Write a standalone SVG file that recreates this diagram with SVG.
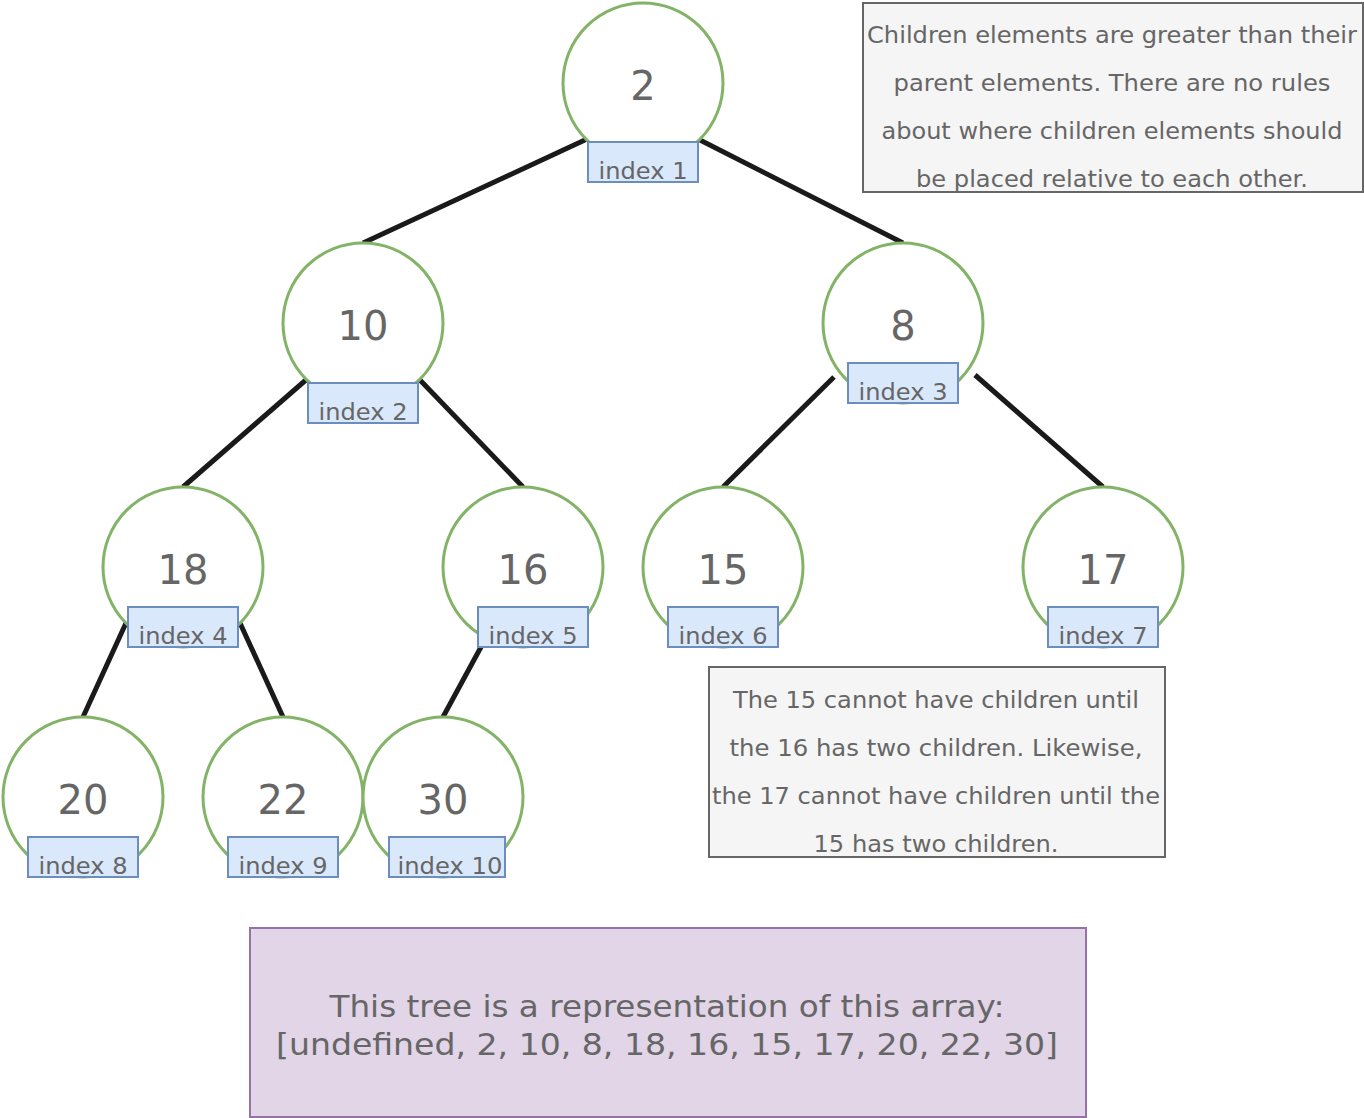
<svg xmlns="http://www.w3.org/2000/svg" width="1364" height="1118" viewBox="0 0 1364 1118">
<style>
  text { font-family: "DejaVu Sans", Verdana, sans-serif; fill: #666666; text-anchor: middle; }
  .circ { fill: #ffffff; stroke: #82b366; stroke-width: 3; }
  .idx { fill: #dae8fc; stroke: #6c8ebf; stroke-width: 2; }
  .num { font-size: 40px; }
  .lbl { font-size: 23.5px; }
  .note { fill: #f5f5f5; stroke: #666666; stroke-width: 2; }
  .nt { font-size: 23px; }
  .arr { fill: #e1d5e7; stroke: #9673a6; stroke-width: 2; }
  .at { font-size: 31px; }
  .edge { stroke: #1a1a1a; stroke-width: 5; fill: none; }
</style>
<rect width="1364" height="1118" fill="#ffffff"/>

<g id="connectors">
  <line class="edge" x1="587" y1="139" x2="363" y2="243"/>
  <line class="edge" x1="698" y1="139" x2="903" y2="243"/>
  <line class="edge" x1="307" y1="379" x2="183" y2="487"/>
  <line class="edge" x1="419" y1="379" x2="523" y2="487"/>
  <line class="edge" x1="834" y1="377" x2="723" y2="487"/>
  <line class="edge" x1="975" y1="375" x2="1103" y2="487"/>
  <line class="edge" x1="126" y1="623" x2="83" y2="717"/>
  <line class="edge" x1="240" y1="623" x2="283" y2="717"/>
  <line class="edge" x1="481" y1="647" x2="443" y2="717"/>
</g>

<g id="node-1">
  <circle class="circ" cx="643" cy="83" r="80"/>
  <text class="num" x="643" y="100">2</text>
  <rect class="idx" x="588" y="142" width="110" height="40"/>
  <text class="lbl" x="643" y="179" textLength="89" lengthAdjust="spacingAndGlyphs">index 1</text>
</g>
<g id="node-2">
  <circle class="circ" cx="363" cy="323" r="80"/>
  <text class="num" x="363" y="340">10</text>
  <rect class="idx" x="308" y="383" width="110" height="40"/>
  <text class="lbl" x="363" y="420" textLength="89" lengthAdjust="spacingAndGlyphs">index 2</text>
</g>
<g id="node-3">
  <circle class="circ" cx="903" cy="323" r="80"/>
  <text class="num" x="903" y="340">8</text>
  <rect class="idx" x="848" y="363" width="110" height="40"/>
  <text class="lbl" x="903" y="400" textLength="89" lengthAdjust="spacingAndGlyphs">index 3</text>
</g>
<g id="node-4">
  <circle class="circ" cx="183" cy="567" r="80"/>
  <text class="num" x="183" y="584">18</text>
  <rect class="idx" x="128" y="607" width="110" height="40"/>
  <text class="lbl" x="183" y="644" textLength="89" lengthAdjust="spacingAndGlyphs">index 4</text>
</g>
<g id="node-5">
  <circle class="circ" cx="523" cy="567" r="80"/>
  <text class="num" x="523" y="584">16</text>
  <rect class="idx" x="478" y="607" width="110" height="40"/>
  <text class="lbl" x="533" y="644" textLength="89" lengthAdjust="spacingAndGlyphs">index 5</text>
</g>
<g id="node-6">
  <circle class="circ" cx="723" cy="567" r="80"/>
  <text class="num" x="723" y="584">15</text>
  <rect class="idx" x="668" y="607" width="110" height="40"/>
  <text class="lbl" x="723" y="644" textLength="89" lengthAdjust="spacingAndGlyphs">index 6</text>
</g>
<g id="node-7">
  <circle class="circ" cx="1103" cy="567" r="80"/>
  <text class="num" x="1103" y="584">17</text>
  <rect class="idx" x="1048" y="607" width="110" height="40"/>
  <text class="lbl" x="1103" y="644" textLength="89" lengthAdjust="spacingAndGlyphs">index 7</text>
</g>
<g id="node-8">
  <circle class="circ" cx="83" cy="797" r="80"/>
  <text class="num" x="83" y="814">20</text>
  <rect class="idx" x="28" y="837" width="110" height="40"/>
  <text class="lbl" x="83" y="874" textLength="89" lengthAdjust="spacingAndGlyphs">index 8</text>
</g>
<g id="node-9">
  <circle class="circ" cx="283" cy="797" r="80"/>
  <text class="num" x="283" y="814">22</text>
  <rect class="idx" x="228" y="837" width="110" height="40"/>
  <text class="lbl" x="283" y="874" textLength="89" lengthAdjust="spacingAndGlyphs">index 9</text>
</g>
<g id="node-10">
  <circle class="circ" cx="443" cy="797" r="80"/>
  <text class="num" x="443" y="814">30</text>
  <rect class="idx" x="389" y="837" width="116" height="40"/>
  <text class="lbl" x="450" y="874" textLength="105" lengthAdjust="spacingAndGlyphs">index 10</text>
</g>

<g id="note-rules">
  <rect class="note" x="863" y="3" width="500" height="189"/>
  <text class="nt" x="1112" y="43" textLength="490" lengthAdjust="spacingAndGlyphs">Children elements are greater than their</text>
  <text class="nt" x="1112" y="91" textLength="437" lengthAdjust="spacingAndGlyphs">parent elements. There are no rules</text>
  <text class="nt" x="1112" y="139" textLength="461" lengthAdjust="spacingAndGlyphs">about where children elements should</text>
  <text class="nt" x="1112" y="187" textLength="392" lengthAdjust="spacingAndGlyphs">be placed relative to each other.</text>
</g>

<g id="note-children">
  <rect class="note" x="709" y="667" width="456" height="190"/>
  <text class="nt" x="936" y="708" textLength="406" lengthAdjust="spacingAndGlyphs">The 15 cannot have children until</text>
  <text class="nt" x="936" y="756" textLength="413" lengthAdjust="spacingAndGlyphs">the 16 has two children. Likewise,</text>
  <text class="nt" x="936" y="804" textLength="448" lengthAdjust="spacingAndGlyphs">the 17 cannot have children until the</text>
  <text class="nt" x="936" y="852" textLength="245" lengthAdjust="spacingAndGlyphs">15 has two children.</text>
</g>

<g id="array-box">
  <rect class="arr" x="250" y="928" width="836" height="189"/>
  <text class="at" x="667" y="1017" textLength="675" lengthAdjust="spacingAndGlyphs">This tree is a representation of this array:</text>
  <text class="at" x="667" y="1055" textLength="782" lengthAdjust="spacingAndGlyphs">[undefined, 2, 10, 8, 18, 16, 15, 17, 20, 22, 30]</text>
</g>
</svg>
